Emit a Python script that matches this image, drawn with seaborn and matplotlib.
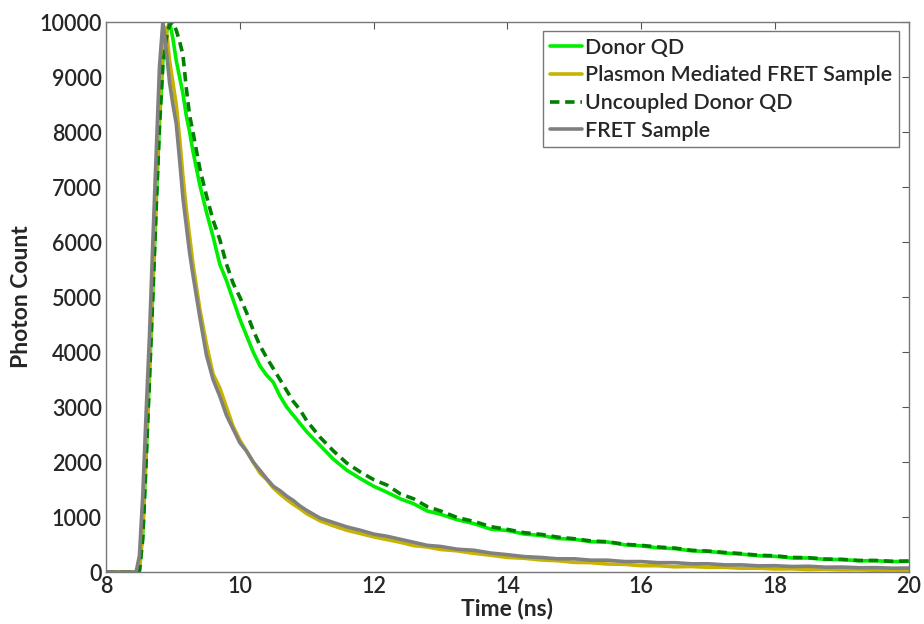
import matplotlib
matplotlib.use("Agg")
import matplotlib.pyplot as plt
import seaborn as sns
import pandas as pd

# Time axis (ns) shared by all decay curves
time_ns = [
    8.00, 8.40, 8.45, 8.50, 8.55, 8.60, 8.65, 8.70, 8.75, 8.80, 8.85, 8.90, 8.95,
    9.00, 9.05, 9.10, 9.15, 9.20, 9.25, 9.30, 9.40, 9.50, 9.60, 9.70, 9.80, 9.90,
    10.0, 10.1, 10.2, 10.3, 10.4, 10.5, 10.6, 10.7, 10.8, 10.9, 11.0, 11.2, 11.4,
    11.6, 11.8, 12.0, 12.2, 12.4, 12.6, 12.8, 13.0, 13.25, 13.5, 13.75, 14.0,
    14.25, 14.5, 14.75, 15.0, 15.25, 15.5, 15.75, 16.0, 16.25, 16.5, 16.75, 17.0,
    17.25, 17.5, 17.75, 18.0, 18.25, 18.5, 18.75, 19.0, 19.25, 19.5, 19.75, 20.0,
]

donor_qd = [
    0, 0, 0, 30, 700, 2100, 3600, 5100, 6700, 8200, 9300, 9800, 10000,
    9700, 9300, 9000, 8700, 8300, 8000, 7650, 7050, 6550, 6100, 5600, 5300, 4950,
    4600, 4300, 4000, 3750, 3580, 3450, 3200, 3000, 2850, 2700, 2550, 2300, 2050,
    1850, 1700, 1560, 1450, 1330, 1240, 1110, 1050, 950, 880, 780, 755,
    690, 665, 610, 595, 550, 545, 495, 475, 440, 425, 385, 375,
    345, 325, 295, 285, 255, 255, 230, 225, 205, 205, 190, 195,
]

plasmon_fret = [
    0, 0, 0, 50, 800, 2300, 3800, 5300, 7000, 8500, 9700, 9900, 9300,
    8900, 8500, 7900, 7200, 6600, 6100, 5600, 4800, 4150, 3600, 3350, 3000, 2650,
    2400, 2200, 2000, 1800, 1680, 1530, 1420, 1320, 1230, 1150, 1060, 930, 840,
    760, 700, 640, 590, 540, 480, 455, 410, 385, 340, 305, 265,
    250, 220, 205, 175, 170, 145, 140, 115, 115, 95, 100, 85,
    85, 68, 70, 55, 58, 45, 50, 40, 42, 32, 35, 30,
]

uncoupled_qd = [
    0, 0, 0, 20, 600, 2000, 3500, 5000, 6600, 8100, 9200, 9700, 9950,
    10000, 9850, 9650, 9400, 8800, 8300, 8000, 7350, 6850, 6400, 6050, 5600, 5250,
    5000, 4720, 4400, 4120, 3900, 3700, 3500, 3300, 3100, 2950, 2750, 2450, 2200,
    1980, 1820, 1680, 1580, 1420, 1330, 1190, 1110, 990, 920, 825, 775,
    715, 685, 635, 605, 565, 550, 505, 485, 455, 435, 395, 380,
    355, 335, 305, 295, 265, 260, 235, 230, 210, 210, 195, 200,
]

fret_sample = [
    0, 0, 0, 300, 1400, 2900, 4300, 6000, 7600, 9200, 10000, 9500, 8900,
    8500, 8150, 7500, 6800, 6300, 5800, 5400, 4650, 3950, 3500, 3200, 2850, 2600,
    2350, 2200, 2000, 1850, 1700, 1560, 1480, 1380, 1300, 1200, 1120, 980, 900,
    820, 760, 690, 650, 595, 540, 485, 465, 415, 395, 345, 315,
    280, 265, 240, 240, 215, 215, 190, 190, 170, 170, 150, 150,
    130, 130, 112, 115, 100, 105, 88, 90, 78, 80, 70, 72,
]

series_names = ["Donor QD", "Plasmon Mediated FRET Sample",
                "Uncoupled Donor QD", "FRET Sample"]
series_values = [donor_qd, plasmon_fret, uncoupled_qd, fret_sample]
series_colors = ["#00ee00", "#c8b400", "#007f00", "#808080"]
series_styles = ["-", "-", (0, (2.6, 1.6)), "-"]

x_ticks = [8, 10, 12, 14, 16, 18, 20]
y_ticks = list(range(0, 10001, 1000))

sns.set_style("white")
plt.rcParams["font.family"] = ["Lato", "DejaVu Sans"]

fig = plt.figure(figsize=(9.24, 6.24), dpi=100)
ax = fig.add_axes([0.1147, 0.0833, 0.8690, 0.8814])

for name, vals, col, ls in zip(series_names, series_values, series_colors, series_styles):
    df = pd.DataFrame({"t": time_ns, "count": vals})
    sns.lineplot(data=df, x="t", y="count", ax=ax, color=col, linewidth=2.6,
                 linestyle=ls, label=name, estimator=None, sort=False)

ax.set_xlim(8, 20)
ax.set_ylim(0, 10000)
ax.set_xticks(x_ticks)
ax.set_yticks(y_ticks)
ax.tick_params(axis="both", direction="in", length=5, width=0.8, color="#555555",
               labelsize=15.5, top=True, right=True, pad=3)
for lab in ax.get_xticklabels() + ax.get_yticklabels():
    lab.set_fontweight("semibold")
for sp in ax.spines.values():
    sp.set_color("#777777")
    sp.set_linewidth(1.0)

ax.set_xlabel("Time (ns)", fontsize=16.5, fontweight="bold", labelpad=0)
ax.set_ylabel("Photon Count", fontsize=16.5, fontweight="bold", labelpad=5)

leg = ax.legend(loc="upper right", bbox_to_anchor=(0.995, 0.995), fontsize=15.4,
                frameon=True, fancybox=False, handlelength=1.5, handletextpad=0.15,
                borderpad=0.3, labelspacing=0.36, borderaxespad=0.3)
leg.get_frame().set_edgecolor("#555555")
leg.get_frame().set_linewidth(1.0)
for txt in leg.get_texts():
    txt.set_fontweight("semibold")

fig.savefig("out.png", dpi=100)
